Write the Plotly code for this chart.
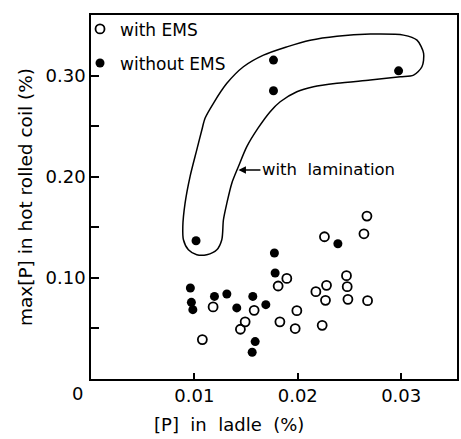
import plotly.graph_objects as go

# --- data ---
with_ems_x = [0.02669, 0.02258, 0.0264, 0.01894, 0.0181, 0.02175, 0.02278, 0.02471, 0.02478,
              0.02268, 0.02485, 0.02675, 0.01181, 0.01578, 0.01491, 0.01445, 0.01991, 0.01827,
              0.01975, 0.02236, 0.01077]
with_ems_y = [0.1611, 0.1407, 0.1436, 0.0995, 0.092, 0.0864, 0.0926, 0.1022, 0.0913,
              0.0778, 0.0788, 0.0775, 0.0713, 0.0679, 0.0565, 0.0492, 0.0676, 0.0565,
              0.0499, 0.0531, 0.039]

without_ems_x = [0.01016, 0.01774, 0.01781, 0.02388, 0.00961, 0.00971, 0.00985, 0.01194, 0.01314,
                 0.0141, 0.01565, 0.01691, 0.01588, 0.01559, 0.01765, 0.01765, 0.02975]
without_ems_y = [0.1367, 0.1246, 0.1048, 0.1338, 0.090, 0.0758, 0.0686, 0.0817, 0.0841,
                 0.0703, 0.0817, 0.0735, 0.037, 0.0265, 0.3154, 0.2851, 0.3048]

# outline of the "with lamination" region (data coordinates)
lamination_x = [0.0112, 0.01023, 0.00942, 0.00894, 0.00888, 0.0091, 0.00958, 0.01023, 0.01072,
                0.01104, 0.01184, 0.01314, 0.01474, 0.01668, 0.01894, 0.0212, 0.02379, 0.02701,
                0.03023, 0.03153, 0.03217, 0.03201, 0.0312, 0.02991, 0.02701, 0.02379, 0.02152,
                0.01991, 0.0183, 0.01733, 0.01617, 0.01507, 0.01426, 0.01362, 0.01314, 0.01281,
                0.01265, 0.01217, 0.0112]
lamination_y = [0.1229, 0.1229, 0.1278, 0.1377, 0.1508, 0.1739, 0.2002, 0.2266, 0.2463,
                0.2581, 0.2727, 0.2924, 0.3088, 0.3203, 0.3285, 0.3351, 0.3391, 0.3411,
                0.3401, 0.3351, 0.322, 0.3088, 0.3006, 0.2989, 0.2957, 0.2924, 0.289,
                0.2841, 0.2742, 0.2644, 0.2483, 0.2298, 0.2101, 0.1937, 0.1739, 0.1575,
                0.1377, 0.1278, 0.1229]

x_ticks = [0.01, 0.02, 0.03]
x_tick_labels = ["0.01", "0.02", "0.03"]
y_ticks = [0.05, 0.10, 0.15, 0.20, 0.25, 0.30]
y_tick_labels = ["", "0.10", "", "0.20", "", "0.30"]

FONT = "DejaVu Sans"

fig = go.Figure()

fig.add_trace(go.Scatter(
    x=lamination_x, y=lamination_y, mode="lines",
    line=dict(color="black", width=1.5, shape="spline", smoothing=0.8),
    showlegend=False, hoverinfo="skip"))

fig.add_trace(go.Scatter(
    x=with_ems_x, y=with_ems_y, mode="markers", name="with EMS",
    marker=dict(symbol="circle-open", size=9, color="black", line=dict(width=1.8, color="black")),
    legendgroup="a"))

fig.add_trace(go.Scatter(
    x=without_ems_x, y=without_ems_y, mode="markers", name="without EMS",
    marker=dict(symbol="circle", size=9, color="black"),
    legendgroup="b"))

fig.update_layout(
    width=461, height=439,
    margin=dict(l=91, r=4, t=15, b=60, autoexpand=False),
    paper_bgcolor="white", plot_bgcolor="white",
    font=dict(family=FONT, size=17, color="black"),
    showlegend=True,
    legend=dict(xref="paper", yref="paper", x=-0.03, y=1.01,
                xanchor="left", yanchor="top", bgcolor="rgba(0,0,0,0)",
                font=dict(family=FONT, size=17, color="black"),
                tracegroupgap=9, itemclick=False),
    xaxis=dict(range=[0, 0.0354], showgrid=False, zeroline=False,
               showline=True, linecolor="black", linewidth=1.6, mirror=True,
               ticks="inside", ticklen=6, tickwidth=1.5, tickcolor="black",
               tickvals=x_ticks, ticktext=x_tick_labels,
               tickfont=dict(family=FONT, size=18, color="black")),
    yaxis=dict(range=[0, 0.36], showgrid=False, zeroline=False,
               showline=True, linecolor="black", linewidth=1.6, mirror=True,
               ticks="inside", ticklen=8, tickwidth=1.5, tickcolor="black",
               tickvals=y_ticks, ticktext=y_tick_labels,
               tickfont=dict(family=FONT, size=18, color="black"),
               title=dict(text="max[P] in hot rolled coil (%)",
                          font=dict(family=FONT, size=18.5, color="black"),
                          standoff=8)),
)

fig.add_annotation(x=(77 - 91) / 366, y=(379.5 - 394) / 364.5, xref="paper", yref="paper",
                   text="0", showarrow=False, xanchor="center", yanchor="middle",
                   font=dict(family=FONT, size=18, color="black"))

fig.add_annotation(x=(229 - 91) / 366, y=(379.5 - 425) / 364.5, xref="paper", yref="paper",
                   text="[P]  in  ladle  (%)", showarrow=False,
                   xanchor="center", yanchor="middle",
                   font=dict(family=FONT, size=18, color="black"))

fig.add_annotation(x=0.01426, y=0.2068, xref="x", yref="y", text="with  lamination",
                   showarrow=True, ax=90, ay=0, arrowhead=2, arrowsize=1, arrowwidth=1.5,
                   arrowcolor="black", standoff=0,
                   font=dict(family=FONT, size=16.5, color="black"))

fig.write_html("out.html")
